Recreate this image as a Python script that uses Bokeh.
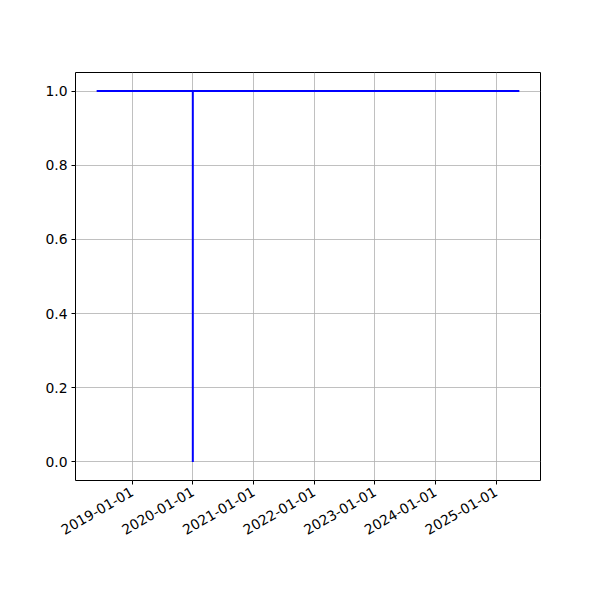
import datetime as dt
from bokeh.plotting import figure
from bokeh.models import FixedTicker, DatetimeTickFormatter, NumeralTickFormatter
from bokeh.embed import file_html
from bokeh.resources import INLINE
import math

# data
dates = [dt.datetime(2018, 6, 1), dt.datetime(2020, 1, 1), dt.datetime(2020, 1, 1),
         dt.datetime(2020, 1, 1), dt.datetime(2025, 5, 20)]
values = [1.0, 1.0, 0.0, 1.0, 1.0]
x_tick_years = [2019, 2020, 2021, 2022, 2023, 2024, 2025]
y_ticks = [0.0, 0.2, 0.4, 0.6, 0.8, 1.0]

W = H = 584
p = figure(width=W, height=H, x_axis_type="datetime", output_backend="svg",
           toolbar_location=None,
           min_border_left=75, min_border_right=44, min_border_top=72, min_border_bottom=104)

p.line(dates, values, line_color="blue", line_width=2)

epoch = dt.datetime(1970, 1, 1)
x_ticks = [(dt.datetime(y, 1, 1) - epoch).total_seconds() * 1000 for y in x_tick_years]
p.xaxis.ticker = FixedTicker(ticks=x_ticks)
fmt = "%Y-%m-%d"
p.xaxis.formatter = DatetimeTickFormatter(years=fmt, months=fmt, days=fmt, hours=fmt,
                                          minutes=fmt, seconds=fmt, milliseconds=fmt,
                                          microseconds=fmt, hourmin=fmt, minsec=fmt)
p.xaxis.major_label_orientation = math.radians(30)
p.yaxis.ticker = FixedTicker(ticks=y_ticks)
p.yaxis.formatter = NumeralTickFormatter(format="0.0")

for ax in (p.xaxis, p.yaxis):
    ax.major_label_text_font = "DejaVu Sans"
    ax.major_label_text_font_size = "13.9px"
    ax.major_label_text_color = "black"
    ax.axis_line_color = None
    ax.major_tick_line_color = "black"
    ax.major_tick_out = 4
    ax.major_tick_in = 0
    ax.minor_tick_line_color = None
    ax.major_label_standoff = 4
p.xaxis.major_label_standoff = 6

for g in (p.xgrid, p.ygrid):
    g.grid_line_color = "#b0b0b0"
    g.grid_line_width = 0.8

p.outline_line_color = "black"
p.outline_line_width = 1
p.background_fill_color = "white"
p.border_fill_color = "white"

open("out.html", "w").write(file_html(p, INLINE))
